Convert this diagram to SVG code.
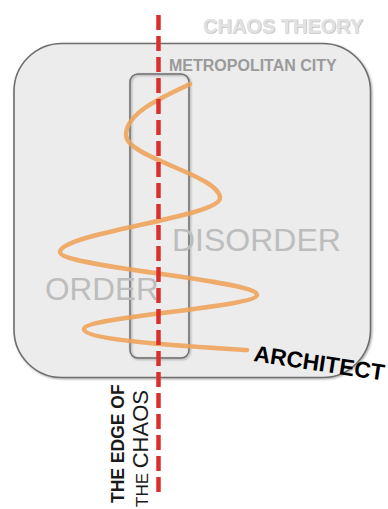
<svg xmlns="http://www.w3.org/2000/svg" width="388" height="509" viewBox="0 0 388 509">
  <defs>
    <filter id="sh" x="-10%" y="-10%" width="120%" height="120%">
      <feDropShadow dx="1" dy="1" stdDeviation="1" flood-color="#000" flood-opacity="0.35"/>
    </filter>
    <filter id="tsh" x="-10%" y="-30%" width="120%" height="160%">
      <feDropShadow dx="0.5" dy="0.5" stdDeviation="0.6" flood-color="#888" flood-opacity="0.8"/>
    </filter>
    <style>
      .frame { fill: #ececec; stroke: #6e6e6e; stroke-width: 1.6; }
      .lbl { font-family: "Liberation Sans", Arial, sans-serif; }
    </style>
  </defs>
  <rect width="388" height="509" fill="#ffffff"/>

  <g id="chaos-theory">
    <rect class="frame" x="14" y="43.5" width="356.5" height="334" rx="48" ry="48" filter="url(#sh)"/>
    <text class="lbl" x="203" y="33" font-size="20" font-weight="bold" fill="#e2e2e2" filter="url(#tsh)">CHAOS THEORY</text>
    <text class="lbl" x="169" y="71" font-size="16" font-weight="bold" fill="#9a9a9a">METROPOLITAN CITY</text>
  </g>

  <g id="metropolitan-city">
    <rect x="130" y="74" width="59" height="284" rx="8" ry="8" fill="none" stroke="#6e6e6e" stroke-width="1.5" filter="url(#sh)"/>
  </g>

  <g id="disorder">
    <text class="lbl" x="172" y="251" font-size="32" fill="#bdbdbd">DISORDER</text>
  </g>
  <g id="order">
    <text class="lbl" x="45" y="300" font-size="31.5" fill="#bdbdbd">ORDER</text>
  </g>

  <g id="connectors">
    <path id="spiral" d="M190,84 C165,96 126,112 126,135 C126,158 220,175 220,198 C220,217 60,233 60,252 C60,267 257,280 257,295 C257,307 84,317 84,329 C84,341 200,347 247,350" fill="none" stroke="#eea257" stroke-opacity="0.88" stroke-width="4.5" stroke-linecap="round"/>
    <line id="edge" x1="158.5" y1="15" x2="158.5" y2="492" stroke="#d9302e" stroke-width="4.5" stroke-dasharray="15 6"/>
  </g>

  <g id="architect">
    <text class="lbl" transform="translate(253,361) rotate(8.6)" font-size="22.8" font-weight="bold" fill="#000">ARCHITECT</text>
  </g>

  <g id="edge-of-chaos">
    <text class="lbl" transform="translate(123.5,503) rotate(-90)" font-size="17.5" font-weight="bold" fill="#1a1a1a">THE EDGE OF</text>
    <text class="lbl" transform="translate(148,507) rotate(-90)" fill="#1a1a1a"><tspan font-size="17">THE </tspan><tspan font-size="22">CHAOS</tspan></text>
  </g>
</svg>
